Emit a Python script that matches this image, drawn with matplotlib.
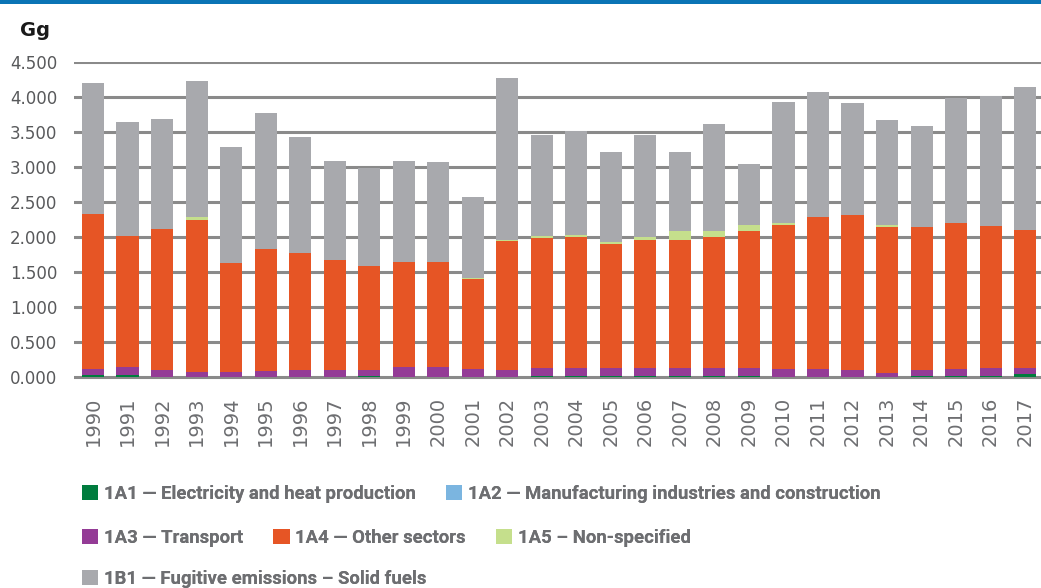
import numpy as np
import matplotlib
matplotlib.use('Agg')
import matplotlib.pyplot as plt
from matplotlib.patches import Patch, Rectangle

# Dane (Gg)
years = [str(y) for y in range(1990, 2018)]

s_1a1 = [0.03, 0.03, 0.00, 0.00, 0.00, 0.00, 0.00, 0.00, 0.01, 0.00,
         0.00, 0.00, 0.00, 0.015, 0.015, 0.015, 0.015, 0.015, 0.015, 0.015,
         0.00, 0.00, 0.00, 0.00, 0.02, 0.02, 0.02, 0.05]
s_1a2 = [0.0] * 28
s_1a3 = [0.08, 0.12, 0.10, 0.07, 0.07, 0.09, 0.10, 0.10, 0.095, 0.15,
         0.15, 0.11, 0.10, 0.115, 0.115, 0.115, 0.115, 0.115, 0.115, 0.115,
         0.11, 0.11, 0.10, 0.057, 0.08, 0.09, 0.11, 0.08]
s_1a4 = [2.22, 1.86, 2.02, 2.18, 1.56, 1.74, 1.67, 1.57, 1.485, 1.49,
         1.49, 1.29, 1.84, 1.86, 1.87, 1.77, 1.83, 1.83, 1.87, 1.96,
         2.06, 2.18, 2.22, 2.08, 2.04, 2.09, 2.03, 1.97]
s_1a5 = [0.00, 0.00, 0.00, 0.03, 0.00, 0.00, 0.00, 0.00, 0.00, 0.00,
         0.00, 0.02, 0.02, 0.02, 0.03, 0.03, 0.04, 0.12, 0.08, 0.08,
         0.03, 0.00, 0.00, 0.03, 0.00, 0.00, 0.00, 0.00]
s_1b1 = [1.87, 1.63, 1.56, 1.95, 1.66, 1.94, 1.66, 1.42, 1.39, 1.45,
         1.43, 1.15, 2.31, 1.45, 1.48, 1.29, 1.46, 1.14, 1.54, 0.88,
         1.73, 1.78, 1.59, 1.51, 1.45, 1.79, 1.85, 2.04]

labels = ['1A1 \u2014 Electricity and heat production',
          '1A2 \u2014 Manufacturing industries and construction',
          '1A3 \u2014 Transport',
          '1A4 \u2014 Other sectors',
          '1A5 \u2013 Non-specified',
          '1B1 \u2014 Fugitive emissions \u2013 Solid fuels']
colors = ['#007c3e', '#7bb5e0', '#943b96', '#e65525', '#c5df8c', '#a8a9ad']

series = [s_1a1, s_1a2, s_1a3, s_1a4, s_1a5, s_1b1]

fig = plt.figure(figsize=(10.41, 5.88), dpi=100)
ax = fig.add_axes([74 / 1041, 1 - 381.2 / 588, 1 - 74 / 1041, (381.2 - 62) / 588])

x = np.arange(len(years))
bottom = np.zeros(len(years))
for vals, col in zip(series, colors):
    vals = np.array(vals)
    ax.bar(x, vals, bottom=bottom, width=0.64, color=col, zorder=3)
    bottom += vals

ax.set_xlim(-0.55, len(years) - 0.54)
ax.set_ylim(-0.06, 4.5)
yt = np.arange(0, 4.51, 0.5)
ax.set_yticks(yt)
ax.set_yticklabels([f'{v:.3f}' for v in yt], fontsize=12, color='#58595b')
ax.set_xticks(x)
ax.set_xticklabels(years, rotation=90, fontsize=14, color='#6d6e71')
ax.tick_params(length=0, axis='y', pad=12)
ax.tick_params(length=0, axis='x', pad=11)
for v in yt:
    ax.axhline(v, color='#8a8a8a', lw=2.2, zorder=1)
for s in ax.spines.values():
    s.set_visible(False)

# Pasek u gory i jednostka
fig.add_artist(Rectangle((0, 1 - 4 / 588), 1, 4 / 588, transform=fig.transFigure,
                         color='#0a74b5', lw=0))
fig.text(20 / 1041, 1 - 30 / 588, 'Gg', fontsize=14, fontweight='bold',
         va='center', ha='left', color='#1a1a1a')

# Legenda w trzech wierszach
handles = [Patch(facecolor=c, edgecolor='none') for c in colors]
rows = [([0, 1], 494), ([2, 3, 4], 538), ([5], 579)]
for idx, ypix in rows:
    leg = fig.legend([handles[i] for i in idx], [labels[i] for i in idx],
                     loc='center left', bbox_to_anchor=(82 / 1041, 1 - ypix / 588),
                     ncol=len(idx), frameon=False, handlelength=0.88, handleheight=0.88,
                     handletextpad=0.3, columnspacing=1.65, borderaxespad=0, borderpad=0,
                     prop={'family': ['Roboto', 'DejaVu Sans'],
                           'weight': 'bold', 'size': 13.3})
    for t in leg.get_texts():
        t.set_color('#6d6e71')
    fig.add_artist(leg)

fig.savefig('out.png', dpi=100)
